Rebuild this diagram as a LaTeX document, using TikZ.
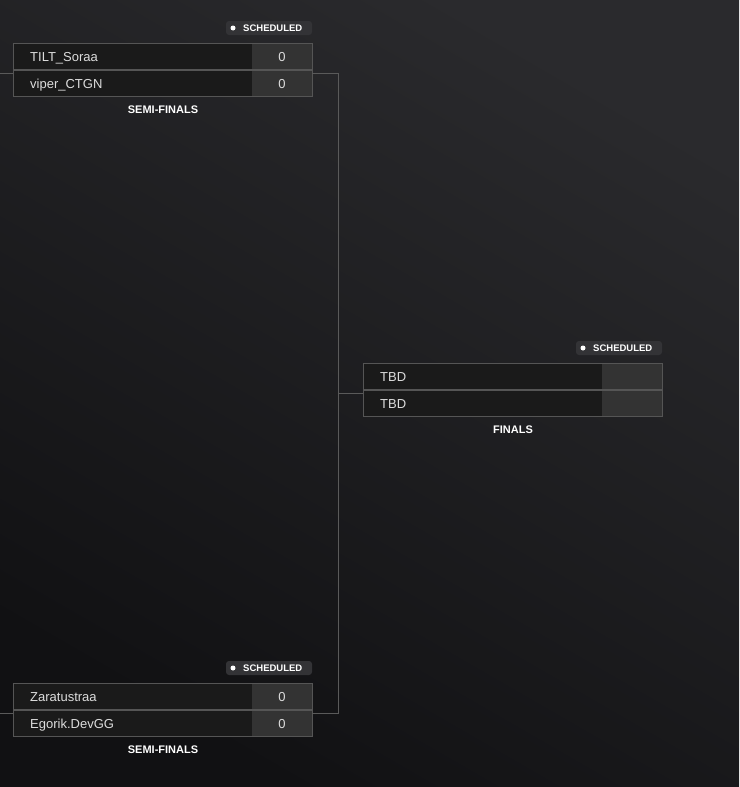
\documentclass[tikz,border=0pt]{standalone}
\usepackage{fontspec}
\setmainfont{Liberation Sans}
\definecolor{bgA}{HTML}{2A2A2D}
\definecolor{bgB}{HTML}{111113}
\definecolor{boxf}{HTML}{1A1A1A}
\definecolor{scoref}{HTML}{333333}
\definecolor{bord}{HTML}{555555}
\definecolor{linec}{HTML}{5A5A5A}
\definecolor{txt}{HTML}{DDDDDD}
\definecolor{badgef}{HTML}{333336}
\tikzset{
 namecell/.style={draw=bord,line width=0.8pt},
 scorecell/.style={fill=scoref},
 nametxt/.style={anchor=base west,text=txt,font=\fontsize{13}{15}\selectfont,inner sep=0},
 scoretxt/.style={anchor=base,text=txt,font=\fontsize{13}{15}\selectfont,inner sep=0},
 roundlbl/.style={text=white,font=\bfseries\fontsize{11}{13}\selectfont,inner sep=0},
 badge/.style={fill=badgef,rounded corners=3pt},
 badgetxt/.style={text=white,font=\bfseries\fontsize{9.5}{11}\selectfont,inner sep=0,anchor=west},
 conn/.style={draw=linec,line width=1pt}
}
\begin{document}
\begin{tikzpicture}[x=1pt,y=-1pt]
\shade[top color=bgA,bottom color=bgB,shading angle=-30] (0,0) rectangle (739,787);
\useasboundingbox (0,0) rectangle (739,787);
\def\match#1#2#3#4#5#6#7#8{%
 \fill[badge] (#1+213,#2-22) rectangle (#1+299,#2-8);
 \fill[white] (#1+220,#2-15) circle (2.5);
 \node[badgetxt] at (#1+230,#2-15) {SCHEDULED};
 \fill[boxf] (#1,#2) rectangle (#1+299,#2+53);
 \fill[scorecell] (#1+239,#2) rectangle (#1+299,#2+53);
 \draw[namecell] (#1,#2) rectangle (#1+299,#2+53);
 \draw[bord,line width=1.2pt] (#1,#2+27) -- (#1+299,#2+27);
 \node[nametxt] at (#1+17,#2+18) {#3};
 \node[nametxt] at (#1+17,#2+45) {#4};
 \node[scoretxt] at (#1+269,#2+18) {#5};
 \node[scoretxt] at (#1+269,#2+45) {#6};
 \node[roundlbl] at (#1+150,#2+67) {#7};
 \coordinate (#8L) at (#1,#2+30);
 \coordinate (#8R) at (#1+299,#2+30);
}
\match{13}{43}{TILT\_Soraa}{viper\_CTGN}{0}{0}{SEMI-FINALS}{a}
\match{13}{683}{Zaratustraa}{Egorik.DevGG}{0}{0}{SEMI-FINALS}{b}
\match{363}{363}{TBD}{TBD}{}{}{FINALS}{c}
\coordinate (ea) at (0,73);
\coordinate (eb) at (0,713);
\draw[conn] (ea) -- (aL);
\draw[conn] (eb) -- (bL);
\draw[conn] (aR) -- (338,73) -- (338,713) -- (bR);
\draw[conn] (338,393) -- (cL);
\end{tikzpicture}
\end{document}
